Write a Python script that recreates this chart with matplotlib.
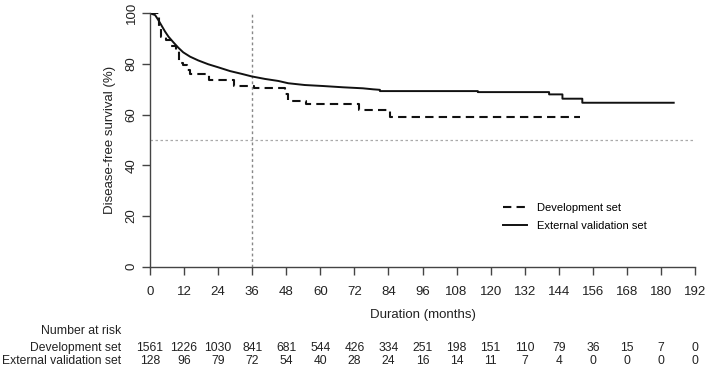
import numpy as np
import matplotlib.pyplot as plt

plt.rcParams['font.family'] = ['Liberation Sans', 'DejaVu Sans']

# dashed curve (legend: Development set)
dev_time = [0, 3.3, 3.8, 5.5, 7.5, 9.0, 10.3, 11.8, 13.0, 14.0, 20.8, 29.5,
            36.5, 47.5, 48.5, 55.0, 73.5, 84.5, 151.5]
dev_surv = [100, 94, 90.5, 89.5, 87, 85, 80.5, 79.5, 77.6, 76.1, 73.7, 71.3,
            70.4, 68.0, 65.3, 64.1, 61.8, 59.0, 59.0]

# solid curve (legend: External validation set), many small steps early on
ext_time = [0, 1.8, 2.9, 4.1, 5.3, 6.5, 8.2, 10.0, 11.7, 14.1, 17.0, 20.5, 24.0,
            28.2, 32.3, 35.8, 40.5, 45.2, 48.7, 54.5, 61.0, 68.0, 75.0, 78.6,
            81.0, 81.0, 115.5, 115.5, 140.6, 140.6, 145.3, 145.3, 152.3, 152.3, 184.5]
ext_surv = [100, 99.3, 97.4, 95.1, 92.8, 90.8, 88.6, 86.4, 84.6, 82.9, 81.4,
            79.9, 78.7, 77.2, 76.1, 75.1, 74.1, 73.3, 72.4, 71.7, 71.3, 70.8,
            70.4, 70.0, 69.8, 69.3, 69.3, 68.9, 68.9, 68.0, 68.0, 66.3, 66.3, 64.7, 64.7]

risk_times = np.arange(0, 193, 12)
dev_risk = [1561, 1226, 1030, 841, 681, 544, 426, 334, 251, 198, 151, 110, 79, 36, 15, 7, 0]
ext_risk = [128, 96, 79, 72, 54, 40, 28, 24, 16, 14, 11, 7, 4, 0, 0, 0, 0]

W, H = 709, 370
fig = plt.figure(figsize=(W / 100, H / 100), dpi=100)
ax = fig.add_axes([150 / W, (H - 266.7) / H, 545 / W, 253.4 / H])

ax.axhline(50, color='#aaaaaa', lw=0.9, ls=(0, (2, 2)))
ax.axvline(36, color='#888888', lw=1.0, ls=(0, (2, 2)))

ax.plot(dev_time, dev_surv, drawstyle='steps-post', color='#111111', lw=1.5,
        dashes=(4, 2.5), label='Development set')
ax.plot(ext_time, ext_surv, color='#111111', lw=1.4,
        label='External validation set')

ax.set_xlim(0, 192)
ax.set_ylim(0, 100)
ax.set_xticks(risk_times)
ax.set_yticks(np.arange(0, 101, 20))
for s in ['top', 'right']:
    ax.spines[s].set_visible(False)
for s in ['left', 'bottom']:
    ax.spines[s].set_color('#444444')
    ax.spines[s].set_linewidth(1.0)
ax.tick_params(axis='both', colors='#444444', labelcolor='#222222', labelsize=9.5,
               length=6, width=1.0)
ax.tick_params(axis='x', pad=8)
ax.tick_params(axis='y', pad=3)
plt.setp(ax.get_yticklabels(), rotation=90, va='center')
ax.set_xlabel('Duration (months)', fontsize=9.5, color='#222222', labelpad=8)
ax.set_ylabel('Disease-free survival (%)', fontsize=9.5, color='#222222', labelpad=7)

ax.legend(frameon=False, loc='upper left', bbox_to_anchor=(493 / W, 1 - 193 / H),
          bbox_transform=fig.transFigure, fontsize=8, handlelength=2.2,
          labelspacing=0.75, handletextpad=0.9)

# number at risk table
fig.text(121 / W, 1 - 331 / H, 'Number at risk', ha='right', va='center', fontsize=8.8, color='#222222')
fig.text(121 / W, 1 - 348 / H, 'Development set', ha='right', va='center', fontsize=8.7, color='#222222')
fig.text(121 / W, 1 - 361 / H, 'External validation set', ha='right', va='center', fontsize=8.7, color='#222222')
tr = ax.get_xaxis_transform()
for t, d, e in zip(risk_times, dev_risk, ext_risk):
    ax.annotate(str(d), (t, 0), xycoords=tr, xytext=(0, -(348 - 266.7) * 0.72),
                textcoords='offset points', ha='center', va='center', fontsize=8.7,
                color='#222222', annotation_clip=False)
    ax.annotate(str(e), (t, 0), xycoords=tr, xytext=(0, -(361 - 266.7) * 0.72),
                textcoords='offset points', ha='center', va='center', fontsize=8.7,
                color='#222222', annotation_clip=False)

fig.savefig('out.png', dpi=100)
